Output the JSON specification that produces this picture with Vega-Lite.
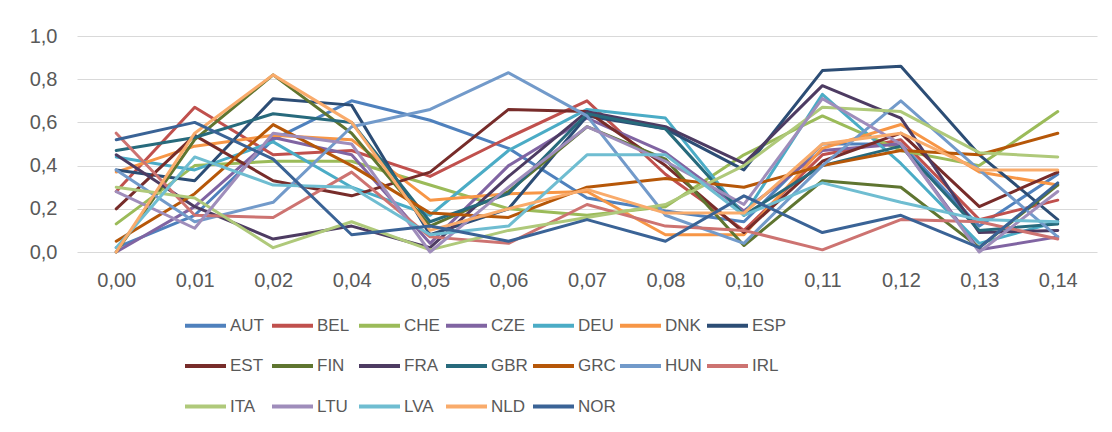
{
  "$schema": "https://vega.github.io/schema/vega-lite/v6.json",
  "autosize": "none",
  "width": 1020,
  "height": 216,
  "padding": {"left": 77, "top": 36, "right": 15, "bottom": 180},
  "background": "white",
  "config": {
    "view": {"stroke": null},
    "font": "Liberation Sans, sans-serif",
    "axis": {"labelColor": "#595959", "domain": false, "ticks": false, "title": null},
    "legend": {"labelColor": "#595959"}
  },
  "data": {"values": [
    {"s":"AUT","x":"0,00","y":0.02},{"s":"AUT","x":"0,01","y":0.17},{"s":"AUT","x":"0,02","y":0.52},{"s":"AUT","x":"0,04","y":0.70},{"s":"AUT","x":"0,05","y":0.61},{"s":"AUT","x":"0,06","y":0.48},{"s":"AUT","x":"0,07","y":0.25},{"s":"AUT","x":"0,08","y":0.19},{"s":"AUT","x":"0,10","y":0.14},{"s":"AUT","x":"0,11","y":0.50},{"s":"AUT","x":"0,12","y":0.50},{"s":"AUT","x":"0,13","y":0.12},{"s":"AUT","x":"0,14","y":0.36},
    {"s":"BEL","x":"0,00","y":0.28},{"s":"BEL","x":"0,01","y":0.67},{"s":"BEL","x":"0,02","y":0.45},{"s":"BEL","x":"0,04","y":0.47},{"s":"BEL","x":"0,05","y":0.35},{"s":"BEL","x":"0,06","y":0.53},{"s":"BEL","x":"0,07","y":0.70},{"s":"BEL","x":"0,08","y":0.36},{"s":"BEL","x":"0,10","y":0.10},{"s":"BEL","x":"0,11","y":0.45},{"s":"BEL","x":"0,12","y":0.52},{"s":"BEL","x":"0,13","y":0.15},{"s":"BEL","x":"0,14","y":0.24},
    {"s":"CHE","x":"0,00","y":0.13},{"s":"CHE","x":"0,01","y":0.40},{"s":"CHE","x":"0,02","y":0.42},{"s":"CHE","x":"0,04","y":0.42},{"s":"CHE","x":"0,05","y":0.31},{"s":"CHE","x":"0,06","y":0.20},{"s":"CHE","x":"0,07","y":0.17},{"s":"CHE","x":"0,08","y":0.21},{"s":"CHE","x":"0,10","y":0.45},{"s":"CHE","x":"0,11","y":0.63},{"s":"CHE","x":"0,12","y":0.47},{"s":"CHE","x":"0,13","y":0.40},{"s":"CHE","x":"0,14","y":0.65},
    {"s":"CZE","x":"0,00","y":0.00},{"s":"CZE","x":"0,01","y":0.21},{"s":"CZE","x":"0,02","y":0.53},{"s":"CZE","x":"0,04","y":0.45},{"s":"CZE","x":"0,05","y":0.04},{"s":"CZE","x":"0,06","y":0.40},{"s":"CZE","x":"0,07","y":0.62},{"s":"CZE","x":"0,08","y":0.46},{"s":"CZE","x":"0,10","y":0.19},{"s":"CZE","x":"0,11","y":0.47},{"s":"CZE","x":"0,12","y":0.50},{"s":"CZE","x":"0,13","y":0.01},{"s":"CZE","x":"0,14","y":0.07},
    {"s":"DEU","x":"0,00","y":0.44},{"s":"DEU","x":"0,01","y":0.38},{"s":"DEU","x":"0,02","y":0.51},{"s":"DEU","x":"0,04","y":0.30},{"s":"DEU","x":"0,05","y":0.17},{"s":"DEU","x":"0,06","y":0.47},{"s":"DEU","x":"0,07","y":0.66},{"s":"DEU","x":"0,08","y":0.62},{"s":"DEU","x":"0,10","y":0.17},{"s":"DEU","x":"0,11","y":0.73},{"s":"DEU","x":"0,12","y":0.41},{"s":"DEU","x":"0,13","y":0.04},{"s":"DEU","x":"0,14","y":0.14},
    {"s":"DNK","x":"0,00","y":0.37},{"s":"DNK","x":"0,01","y":0.49},{"s":"DNK","x":"0,02","y":0.54},{"s":"DNK","x":"0,04","y":0.52},{"s":"DNK","x":"0,05","y":0.24},{"s":"DNK","x":"0,06","y":0.27},{"s":"DNK","x":"0,07","y":0.28},{"s":"DNK","x":"0,08","y":0.08},{"s":"DNK","x":"0,10","y":0.08},{"s":"DNK","x":"0,11","y":0.48},{"s":"DNK","x":"0,12","y":0.59},{"s":"DNK","x":"0,13","y":0.37},{"s":"DNK","x":"0,14","y":0.31},
    {"s":"ESP","x":"0,00","y":0.38},{"s":"ESP","x":"0,01","y":0.33},{"s":"ESP","x":"0,02","y":0.71},{"s":"ESP","x":"0,04","y":0.68},{"s":"ESP","x":"0,05","y":0.08},{"s":"ESP","x":"0,06","y":0.20},{"s":"ESP","x":"0,07","y":0.63},{"s":"ESP","x":"0,08","y":0.57},{"s":"ESP","x":"0,10","y":0.38},{"s":"ESP","x":"0,11","y":0.84},{"s":"ESP","x":"0,12","y":0.86},{"s":"ESP","x":"0,13","y":0.45},{"s":"ESP","x":"0,14","y":0.15},
    {"s":"EST","x":"0,00","y":0.20},{"s":"EST","x":"0,01","y":0.54},{"s":"EST","x":"0,02","y":0.33},{"s":"EST","x":"0,04","y":0.26},{"s":"EST","x":"0,05","y":0.37},{"s":"EST","x":"0,06","y":0.66},{"s":"EST","x":"0,07","y":0.65},{"s":"EST","x":"0,08","y":0.40},{"s":"EST","x":"0,10","y":0.09},{"s":"EST","x":"0,11","y":0.42},{"s":"EST","x":"0,12","y":0.55},{"s":"EST","x":"0,13","y":0.21},{"s":"EST","x":"0,14","y":0.37},
    {"s":"FIN","x":"0,00","y":0.00},{"s":"FIN","x":"0,01","y":0.52},{"s":"FIN","x":"0,02","y":0.82},{"s":"FIN","x":"0,04","y":0.55},{"s":"FIN","x":"0,05","y":0.12},{"s":"FIN","x":"0,06","y":0.28},{"s":"FIN","x":"0,07","y":0.58},{"s":"FIN","x":"0,08","y":0.43},{"s":"FIN","x":"0,10","y":0.03},{"s":"FIN","x":"0,11","y":0.33},{"s":"FIN","x":"0,12","y":0.30},{"s":"FIN","x":"0,13","y":0.02},{"s":"FIN","x":"0,14","y":0.31},
    {"s":"FRA","x":"0,00","y":0.45},{"s":"FRA","x":"0,01","y":0.21},{"s":"FRA","x":"0,02","y":0.06},{"s":"FRA","x":"0,04","y":0.12},{"s":"FRA","x":"0,05","y":0.02},{"s":"FRA","x":"0,06","y":0.35},{"s":"FRA","x":"0,07","y":0.65},{"s":"FRA","x":"0,08","y":0.58},{"s":"FRA","x":"0,10","y":0.41},{"s":"FRA","x":"0,11","y":0.77},{"s":"FRA","x":"0,12","y":0.62},{"s":"FRA","x":"0,13","y":0.09},{"s":"FRA","x":"0,14","y":0.10},
    {"s":"GBR","x":"0,00","y":0.47},{"s":"GBR","x":"0,01","y":0.53},{"s":"GBR","x":"0,02","y":0.64},{"s":"GBR","x":"0,04","y":0.60},{"s":"GBR","x":"0,05","y":0.14},{"s":"GBR","x":"0,06","y":0.27},{"s":"GBR","x":"0,07","y":0.64},{"s":"GBR","x":"0,08","y":0.57},{"s":"GBR","x":"0,10","y":0.17},{"s":"GBR","x":"0,11","y":0.40},{"s":"GBR","x":"0,12","y":0.49},{"s":"GBR","x":"0,13","y":0.10},{"s":"GBR","x":"0,14","y":0.13},
    {"s":"GRC","x":"0,00","y":0.05},{"s":"GRC","x":"0,01","y":0.27},{"s":"GRC","x":"0,02","y":0.59},{"s":"GRC","x":"0,04","y":0.40},{"s":"GRC","x":"0,05","y":0.18},{"s":"GRC","x":"0,06","y":0.16},{"s":"GRC","x":"0,07","y":0.30},{"s":"GRC","x":"0,08","y":0.34},{"s":"GRC","x":"0,10","y":0.30},{"s":"GRC","x":"0,11","y":0.40},{"s":"GRC","x":"0,12","y":0.47},{"s":"GRC","x":"0,13","y":0.45},{"s":"GRC","x":"0,14","y":0.55},
    {"s":"HUN","x":"0,00","y":0.38},{"s":"HUN","x":"0,01","y":0.14},{"s":"HUN","x":"0,02","y":0.23},{"s":"HUN","x":"0,04","y":0.58},{"s":"HUN","x":"0,05","y":0.66},{"s":"HUN","x":"0,06","y":0.83},{"s":"HUN","x":"0,07","y":0.63},{"s":"HUN","x":"0,08","y":0.17},{"s":"HUN","x":"0,10","y":0.04},{"s":"HUN","x":"0,11","y":0.40},{"s":"HUN","x":"0,12","y":0.70},{"s":"HUN","x":"0,13","y":0.38},{"s":"HUN","x":"0,14","y":0.07},
    {"s":"IRL","x":"0,00","y":0.55},{"s":"IRL","x":"0,01","y":0.17},{"s":"IRL","x":"0,02","y":0.16},{"s":"IRL","x":"0,04","y":0.37},{"s":"IRL","x":"0,05","y":0.07},{"s":"IRL","x":"0,06","y":0.04},{"s":"IRL","x":"0,07","y":0.22},{"s":"IRL","x":"0,08","y":0.12},{"s":"IRL","x":"0,10","y":0.10},{"s":"IRL","x":"0,11","y":0.01},{"s":"IRL","x":"0,12","y":0.15},{"s":"IRL","x":"0,13","y":0.14},{"s":"IRL","x":"0,14","y":0.06},
    {"s":"ITA","x":"0,00","y":0.30},{"s":"ITA","x":"0,01","y":0.25},{"s":"ITA","x":"0,02","y":0.02},{"s":"ITA","x":"0,04","y":0.14},{"s":"ITA","x":"0,05","y":0.01},{"s":"ITA","x":"0,06","y":0.10},{"s":"ITA","x":"0,07","y":0.16},{"s":"ITA","x":"0,08","y":0.22},{"s":"ITA","x":"0,10","y":0.40},{"s":"ITA","x":"0,11","y":0.67},{"s":"ITA","x":"0,12","y":0.65},{"s":"ITA","x":"0,13","y":0.46},{"s":"ITA","x":"0,14","y":0.44},
    {"s":"LTU","x":"0,00","y":0.28},{"s":"LTU","x":"0,01","y":0.11},{"s":"LTU","x":"0,02","y":0.55},{"s":"LTU","x":"0,04","y":0.50},{"s":"LTU","x":"0,05","y":0.00},{"s":"LTU","x":"0,06","y":0.30},{"s":"LTU","x":"0,07","y":0.58},{"s":"LTU","x":"0,08","y":0.42},{"s":"LTU","x":"0,10","y":0.22},{"s":"LTU","x":"0,11","y":0.71},{"s":"LTU","x":"0,12","y":0.50},{"s":"LTU","x":"0,13","y":0.00},{"s":"LTU","x":"0,14","y":0.28},
    {"s":"LVA","x":"0,00","y":0.02},{"s":"LVA","x":"0,01","y":0.44},{"s":"LVA","x":"0,02","y":0.31},{"s":"LVA","x":"0,04","y":0.30},{"s":"LVA","x":"0,05","y":0.08},{"s":"LVA","x":"0,06","y":0.12},{"s":"LVA","x":"0,07","y":0.45},{"s":"LVA","x":"0,08","y":0.45},{"s":"LVA","x":"0,10","y":0.17},{"s":"LVA","x":"0,11","y":0.32},{"s":"LVA","x":"0,12","y":0.23},{"s":"LVA","x":"0,13","y":0.15},{"s":"LVA","x":"0,14","y":0.14},
    {"s":"NLD","x":"0,00","y":0.00},{"s":"NLD","x":"0,01","y":0.55},{"s":"NLD","x":"0,02","y":0.82},{"s":"NLD","x":"0,04","y":0.60},{"s":"NLD","x":"0,05","y":0.10},{"s":"NLD","x":"0,06","y":0.20},{"s":"NLD","x":"0,07","y":0.29},{"s":"NLD","x":"0,08","y":0.18},{"s":"NLD","x":"0,10","y":0.18},{"s":"NLD","x":"0,11","y":0.50},{"s":"NLD","x":"0,12","y":0.55},{"s":"NLD","x":"0,13","y":0.38},{"s":"NLD","x":"0,14","y":0.38},
    {"s":"NOR","x":"0,00","y":0.52},{"s":"NOR","x":"0,01","y":0.60},{"s":"NOR","x":"0,02","y":0.43},{"s":"NOR","x":"0,04","y":0.08},{"s":"NOR","x":"0,05","y":0.12},{"s":"NOR","x":"0,06","y":0.05},{"s":"NOR","x":"0,07","y":0.15},{"s":"NOR","x":"0,08","y":0.05},{"s":"NOR","x":"0,10","y":0.26},{"s":"NOR","x":"0,11","y":0.09},{"s":"NOR","x":"0,12","y":0.17},{"s":"NOR","x":"0,13","y":0.02},{"s":"NOR","x":"0,14","y":0.32}
  ]},
  "mark": {"type": "line", "strokeWidth": 3, "strokeJoin": "round", "strokeCap": "round"},
  "encoding": {
    "x": {
      "field": "x", "type": "ordinal",
      "sort": ["0,00","0,01","0,02","0,04","0,05","0,06","0,07","0,08","0,10","0,11","0,12","0,13","0,14"],
      "scale": {"type": "point", "padding": 0.5},
      "axis": {"labelAngle": 0, "labelFontSize": 20, "labelPadding": 18, "grid": false}
    },
    "y": {
      "field": "y", "type": "quantitative",
      "scale": {"domain": [0, 1]},
      "axis": {"values": [0, 0.2, 0.4, 0.6, 0.8, 1.0], "format": ".1f", "labelExpr": "replace(datum.label, '.', ',')", "labelFontSize": 20, "labelPadding": 20, "gridColor": "#D9D9D9", "gridWidth": 1}
    },
    "color": {
      "field": "s", "type": "nominal",
      "scale": {
        "domain": ["AUT","BEL","CHE","CZE","DEU","DNK","ESP","EST","FIN","FRA","GBR","GRC","HUN","IRL","ITA","LTU","LVA","NLD","NOR"],
        "range": ["#4F81BD","#C0504D","#9BBB59","#8064A2","#4BACC6","#F79646","#2C4D75","#772C2A","#5F7530","#4D3B62","#276A7C","#B65708","#729ACA","#CD7371","#AFC97A","#9F8DBB","#6FBDD1","#F9AB6B","#3A6396"]
      },
      "legend": {
        "orient": "none", "legendX": 106, "legendY": 267, "title": null,
        "direction": "horizontal", "columns": 7, "gridAlign": "all",
        "symbolType": "stroke", "symbolSize": 1681, "symbolStrokeWidth": 4,
        "labelFontSize": 17, "labelOffset": 2, "columnPadding": -4, "rowPadding": 9.5
      }
    }
  }
}
